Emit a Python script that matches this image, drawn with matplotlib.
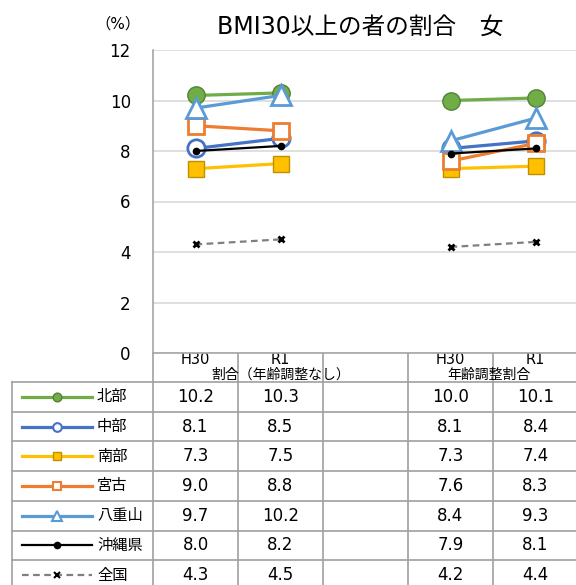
import numpy as np
import matplotlib
matplotlib.use('Agg')
import matplotlib.pyplot as plt
from matplotlib import transforms

plt.rcParams['font.family'] = ['DejaVu Sans', 'Noto Sans CJK JP']

""" data """
title = 'BMI30以上の者の割合　女'
years = ['H30', 'R1', '', 'H30', 'R1']
groups = ['割合（年齢調整なし）', '年齢調整割合']
regions = ['北部', '中部', '南部', '宮古', '八重山', '沖縄県', '全国']

# H30, R1 (no age adjustment) / H30, R1 (age adjusted)
hokubu   = [10.2, 10.3, 10.0, 10.1]
chubu    = [8.1, 8.5, 8.1, 8.4]
nanbu    = [7.3, 7.5, 7.3, 7.4]
miyako   = [9.0, 8.8, 7.6, 8.3]
yaeyama  = [9.7, 10.2, 8.4, 9.3]
okinawa  = [8.0, 8.2, 7.9, 8.1]
zenkoku  = [4.3, 4.5, 4.2, 4.4]
series = [hokubu, chubu, nanbu, miyako, yaeyama, okinawa, zenkoku]

""" styles """
styles = [
	dict(color='#70AD47', marker='o', ms=12.5, mfc='#70AD47', mec='#548235', ls='-', lw=2.3, mew=1.0),
	dict(color='#4472C4', marker='o', ms=12.5, mfc='white', mec='#4472C4', ls='-', lw=2.3, mew=2.0),
	dict(color='#FFC000', marker='s', ms=12, mfc='#FFC000', mec='#BF9000', ls='-', lw=2.3, mew=1.0),
	dict(color='#ED7D31', marker='s', ms=12, mfc='white', mec='#ED7D31', ls='-', lw=2.3, mew=2.0),
	dict(color='#5B9BD5', marker='^', ms=14, mfc='white', mec='#5B9BD5', ls='-', lw=2.3, mew=2.0),
	dict(color='black', marker='o', ms=4.5, mfc='black', mec='black', ls='-', lw=1.6, mew=1.0),
	dict(color='#7F7F7F', marker='x', ms=5, mfc='black', mec='black', ls=(0, (3, 2)), lw=1.6, mew=2.0),
]

W, H = 576, 585
fig = plt.figure(figsize=(W/100, H/100), dpi=100)

""" chart area """
ax = fig.add_axes([153/W, 1-353/H, 425/W, 303/H])
x = np.arange(len(years))
for vals, st in zip(series, styles):
	y = np.array([vals[0], vals[1], np.nan, vals[2], vals[3]])
	ax.plot(x[:2], y[:2], **st)
	ax.plot(x[3:], y[3:], **st)

ax.set_xlim(-0.5, 4.5)
ax.set_ylim(0, 12)
ax.set_yticks(np.arange(0, 13, 2))
ax.set_xticks([])
ax.tick_params(axis='y', length=0, pad=16, labelsize=12)
ax.grid(axis='y', color='#D9D9D9', lw=1.2)
ax.set_axisbelow(True)
for s in ['top', 'right']:
	ax.spines[s].set_visible(False)
ax.spines['left'].set_color('#A6A6A6')
ax.spines['bottom'].set_color('#A6A6A6')
ax.spines['left'].set_linewidth(1.2)
ax.spines['bottom'].set_linewidth(1.2)

fig.text(360/W, 1-27/H, title, ha='center', va='center', fontsize=17)
fig.text(118/W, 1-24/H, '（%）', ha='center', va='center', fontsize=11)

""" data table below the chart, in pixel coordinates """
tab = fig.add_axes([0, 0, 1, 1], zorder=-1)
tab.set_xlim(0, W)
tab.set_ylim(H, 0)
tab.axis('off')
mix = transforms.blended_transform_factory(ax.transData, tab.transData)

grid_c = '#A0A0A0'
row_top = 382
row_h = 29.7
col_edges = [153, 238, 323, 408, 493]

tab.plot([12, W], [row_top, row_top], color=grid_c, lw=1.2)
for i in range(len(regions)):
	yb = row_top + (i+1)*row_h
	tab.plot([12, W], [yb, yb], color=grid_c, lw=1.2)
tab.plot([12, 12], [row_top, H], color=grid_c, lw=1.2)
for xe in col_edges:
	tab.plot([xe, xe], [353, H], color=grid_c, lw=1.2)

for i, lab in enumerate(years):
	tab.text(i, 359, lab, transform=mix, ha='center', va='center', fontsize=10.5)
tab.text(1, 375, groups[0], transform=mix, ha='center', va='center', fontsize=10)
tab.text(3.45, 375, groups[1], transform=mix, ha='center', va='center', fontsize=10)

for i, (name, vals, st) in enumerate(zip(regions, series, styles)):
	yc = row_top + (i+0.5)*row_h
	st_small = dict(st)
	st_small['ms'] = st['ms'] * 0.5 if st['ms'] > 6 else st['ms']
	st_small['mew'] = min(st['mew'], 1.5)
	tab.plot([22, 92], [yc, yc], **{k: v for k, v in st_small.items() if k != 'marker'})
	tab.plot([57], [yc], **st_small)
	tab.text(97, yc, name, ha='left', va='center', fontsize=11)
	for j, col in enumerate([0, 1, 3, 4]):
		tab.text(col, yc, '%.1f' % vals[j], transform=mix, ha='center', va='center', fontsize=12)

plt.savefig('out.png', dpi=100)
